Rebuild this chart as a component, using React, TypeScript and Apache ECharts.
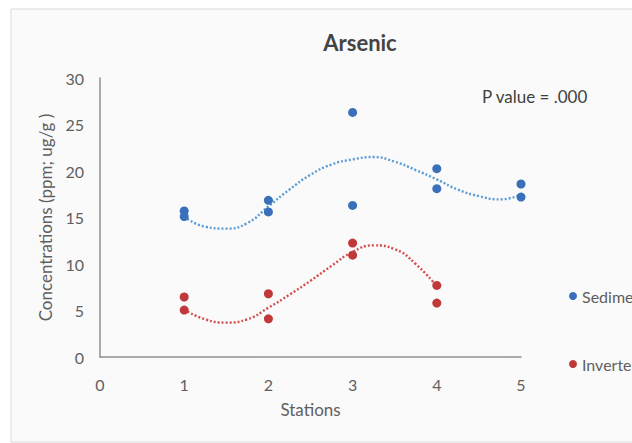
import React, { useEffect, useRef } from "react";
import * as echarts from "echarts";

const FONT = "Lato, 'Noto Sans', sans-serif";

// Scatter data (station, concentration)
const sedimentStations = [1, 1, 2, 2, 3, 3, 4, 4, 5, 5];
const sedimentValues = [15.7, 15.1, 16.85, 15.6, 26.3, 16.3, 20.25, 18.1, 18.6, 17.2];
const invertStations = [1, 1, 2, 2, 3, 3, 4, 4];
const invertValues = [6.45, 5.05, 6.8, 4.1, 12.25, 10.95, 7.7, 5.8];

// Polynomial trend lines
const sedimentTrendX = [1, 1.25, 1.5, 1.75, 2, 2.25, 2.5, 2.75, 3, 3.25, 3.5, 3.75, 4, 4.25, 4.5, 4.75, 5];
const sedimentTrendY = [15.1, 14.0, 13.8, 14.4, 16.2, 18.0, 19.6, 20.7, 21.25, 21.5, 21.0, 20.1, 19.1, 18.0, 17.3, 16.95, 17.45];
const invertTrendX = [1, 1.25, 1.5, 1.75, 2, 2.25, 2.5, 2.75, 3, 3.25, 3.5, 3.75, 4];
const invertTrendY = [5.1, 4.05, 3.7, 4.05, 5.3, 6.7, 8.2, 9.8, 11.3, 12.0, 11.6, 10.0, 7.6];

const seriesNames = ["Sediment", "Invertebrates"];
const titleText = "Arsenic";
const pValueText = "P value = .000";
const xAxisName = "Stations";
const yAxisName = "Concentrations (ppm; ug/g )";

const zip = (xs: number[], ys: number[]) => xs.map((x, i) => [x, ys[i]]);

export default function App() {
  const ref = useRef<HTMLDivElement>(null);
  useEffect(() => {
    document.body.style.margin = "0";
    if (!ref.current) return;
    const chart = echarts.init(ref.current, undefined, { renderer: "svg" });
    const axisLabel = { color: "#5f5f5f", fontSize: 16, fontFamily: FONT };
    chart.setOption({
      animation: false,
      backgroundColor: "#ffffff",
      title: {
        text: titleText,
        left: 355,
        textAlign: "center",
        top: 26,
        textStyle: { fontFamily: FONT, fontSize: 22, fontWeight: "bold", color: "#444444" },
      },
      graphic: [
        {
          type: "rect",
          z: -100,
          shape: { x: 11, y: 9, width: 640, height: 433 },
          style: { fill: "#fafafa", stroke: "#dadada", lineWidth: 1 },
        },
        {
          type: "text",
          z: 100,
          x: 482,
          y: 88,
          style: { text: pValueText, fontFamily: FONT, fontSize: 17, fill: "#404040" },
        },
      ],
      legend: {
        orient: "vertical",
        left: 564,
        top: 281,
        itemWidth: 8,
        itemHeight: 8,
        itemGap: 48,
        icon: "circle",
        data: seriesNames,
        textStyle: { fontFamily: FONT, fontSize: 16, color: "#5f5f5f", lineHeight: 20 },
      },
      grid: { left: 100, top: 78, right: 111, bottom: 86, containLabel: false },
      xAxis: {
        type: "value",
        min: 0,
        max: 5,
        interval: 1,
        name: xAxisName,
        nameLocation: "middle",
        nameGap: 44,
        nameTextStyle: { fontFamily: FONT, fontSize: 17, color: "#5f5f5f" },
        axisLine: { show: true, lineStyle: { color: "#909090", width: 1.5 } },
        axisTick: { show: false },
        splitLine: { show: false },
        axisLabel: { ...axisLabel, margin: 19 },
      },
      yAxis: {
        type: "value",
        min: 0,
        max: 30,
        interval: 5,
        name: yAxisName,
        nameLocation: "middle",
        nameGap: 46,
        nameRotate: 90,
        nameTextStyle: { fontFamily: FONT, fontSize: 17, color: "#5f5f5f" },
        axisLine: { show: true, lineStyle: { color: "#909090", width: 1.5 } },
        axisTick: { show: false },
        splitLine: { show: false },
        axisLabel: { ...axisLabel, margin: 16 },
      },
      series: [
        {
          name: "Sediment trend",
          type: "line",
          data: zip(sedimentTrendX, sedimentTrendY),
          smooth: true,
          showSymbol: false,
          silent: true,
          lineStyle: { color: "#5b9bd5", width: 2.4, type: [2, 2] },
          z: 2,
        },
        {
          name: "Invertebrates trend",
          type: "line",
          data: zip(invertTrendX, invertTrendY),
          smooth: true,
          showSymbol: false,
          silent: true,
          lineStyle: { color: "#d44d4d", width: 2.4, type: [2, 2] },
          z: 2,
        },
        {
          name: seriesNames[0],
          type: "scatter",
          data: zip(sedimentStations, sedimentValues),
          symbolSize: 9,
          itemStyle: { color: "#3a6fba", opacity: 1 },
          z: 3,
        },
        {
          name: seriesNames[1],
          type: "scatter",
          data: zip(invertStations, invertValues),
          symbolSize: 9,
          itemStyle: { color: "#c0393a", opacity: 1 },
          z: 3,
        },
      ],
    });
    return () => chart.dispose();
  }, []);
  return <div ref={ref} style={{ width: 632, height: 443 }} />;
}
